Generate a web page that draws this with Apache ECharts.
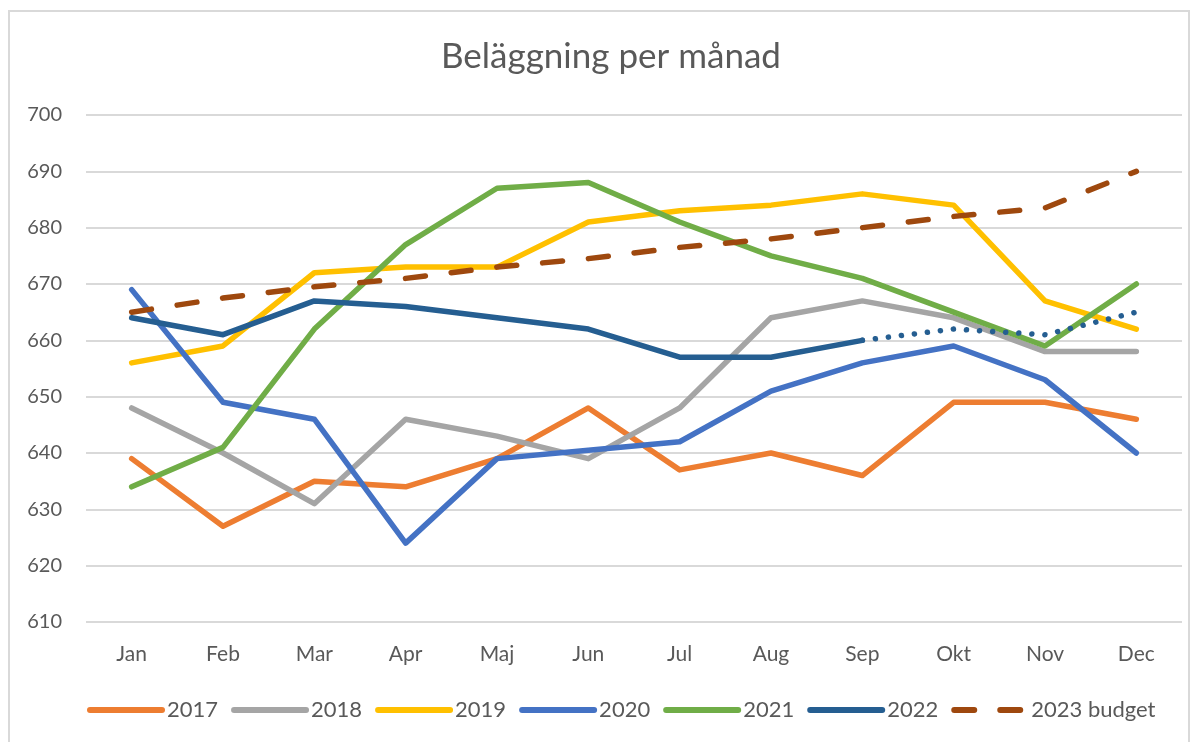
<!DOCTYPE html>
<html>
<head>
<meta charset="utf-8">
<script src="https://cdn.jsdelivr.net/npm/echarts@6/dist/echarts.min.js"></script>
<style>
    html, body { margin: 0; padding: 0; background: #fff; }
    #chart { width: 1198px; height: 742px; }
</style>
</head>
<body>
<div id="chart"></div>
<script>
// kategorier
var months = ['Jan', 'Feb', 'Mar', 'Apr', 'Maj', 'Jun', 'Jul', 'Aug', 'Sep', 'Okt', 'Nov', 'Dec'];

// värden per år
var y2017 = [639, 627, 635, 634, 639, 648, 637, 640, 636, 649, 649, 646];
var y2018 = [648, 640, 631, 646, 643, 639, 648, 664, 667, 664, 658, 658];
var y2019 = [656, 659, 672, 673, 673, 681, 683, 684, 686, 684, 667, 662];
var y2020 = [669, 649, 646, 624, 639, 640.5, 642, 651, 656, 659, 653, 640];
var y2021 = [634, 641, 662, 677, 687, 688, 681, 675, 671, 665, 659, 670];
var y2022 = [664, 661, 667, 666, 664, 662, 657, 657, 660, null, null, null];
var y2022prognos = [null, null, null, null, null, null, null, null, 660, 662, 661, 665]; // prickad del
var budget2023 = [665, 667.5, 669.5, 671, 673, 674.5, 676.5, 678, 680, 682, 683.5, 690];

var yTicks = [610, 620, 630, 640, 650, 660, 670, 680, 690, 700];

var font = 'Lato';
var textColor = '#595959';

function lineSeries(name, data, color, type) {
    return {
        name: name,
        type: 'line',
        data: data,
        symbol: 'none',
        connectNulls: false,
        lineStyle: {
            color: color,
            width: 5.5,
            type: type || 'solid',
            cap: 'round',
            join: 'round'
        },
        itemStyle: { color: color },
        emphasis: { disabled: true }
    };
}

var myChart = echarts.init(document.getElementById('chart'));

var option = {
    animation: false,
    graphic: [{
        type: 'rect',
        shape: { x: 9, y: 11, width: 1180, height: 740 },
        style: { fill: 'none', stroke: '#D9D9D9', lineWidth: 2 },
        silent: true
    }],
    title: {
        text: 'Beläggning per månad',
        left: 436,
        top: 34,
        textStyle: {
            fontFamily: font,
            fontSize: 35,
            fontWeight: 'normal',
            color: textColor
        }
    },
    grid: {
        left: 86,
        right: 16,
        top: 115,
        bottom: 120
    },
    legend: {
        bottom: 16,
        left: 82,
        itemWidth: 72,
        itemHeight: 7,
        itemGap: 13,
        data: ['2017', '2018', '2019', '2020', '2021', '2022', '2023 budget'],
        itemStyle: { opacity: 0 },
        lineStyle: { width: 6, cap: 'round' },
        textStyle: {
            fontFamily: font,
            fontSize: 22,
            color: textColor
        }
    },
    xAxis: {
        type: 'category',
        data: months,
        boundaryGap: true,
        axisLine: { show: false },
        axisTick: { show: false },
        axisLabel: {
            fontFamily: font,
            fontSize: 21,
            color: textColor,
            margin: 22
        }
    },
    yAxis: {
        type: 'value',
        min: yTicks[0],
        max: yTicks[yTicks.length - 1],
        interval: 10,
        axisLine: { show: false },
        axisTick: { show: false },
        axisLabel: {
            fontFamily: font,
            fontSize: 20,
            color: textColor,
            margin: 24
        },
        splitLine: {
            lineStyle: { color: '#D9D9D9', width: 2 }
        }
    },
    series: [
        lineSeries('2017', y2017, '#ED7D31'),
        lineSeries('2018', y2018, '#A5A5A5'),
        lineSeries('2019', y2019, '#FFC000'),
        lineSeries('2020', y2020, '#4472C4'),
        lineSeries('2021', y2021, '#70AD47'),
        lineSeries('2022', y2022, '#255E91'),
        lineSeries('2022 prognos', y2022prognos, '#255E91', [0.1, 13]),
        lineSeries('2023 budget', budget2023, '#9E480E', [20, 26])
    ]
};

myChart.setOption(option);
</script>
</body>
</html>
